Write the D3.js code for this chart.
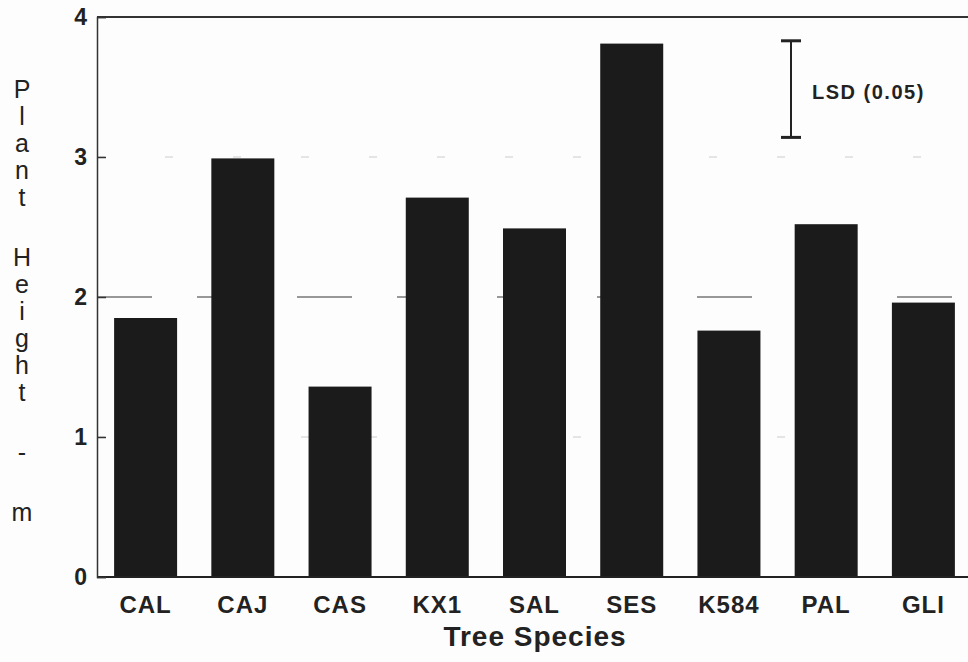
<!DOCTYPE html>
<html>
<head>
<meta charset="utf-8">
<script src="https://cdn.jsdelivr.net/npm/d3@7"></script>
<style>
  body { margin: 0; background: #fdfdfd; }
  svg { display: block; font-family: "Liberation Sans", Arial, sans-serif; }
</style>
</head>
<body>
<div id="chart"></div>
<script>
// tree species on the x axis
var species = ["CAL", "CAJ", "CAS", "KX1", "SAL", "SES", "K584", "PAL", "GLI"];
// plant height in metres
var heights = [1.85, 2.99, 1.36, 2.71, 2.49, 3.81, 1.76, 2.52, 1.96];
var yTicks = [0, 1, 2, 3, 4];
var gridValues = [1, 2, 3];
// LSD (0.05) bar: top value and length
var lsdTop = 3.83;
var lsdLength = 0.69;
var lsdLabel = "LSD (0.05)";
var yTitle = "Plant Height - m";
var xTitle = "Tree Species";

var width = 968, height = 662;
var plotLeft = 97, plotTop = 17, plotBottom = 577, plotRight = 972;

var svg = d3.select("#chart").append("svg")
    .attr("width", width)
    .attr("height", height);

var x = d3.scaleBand()
    .domain(species)
    .range([plotLeft, plotRight])
    .paddingInner(0.352)
    .paddingOuter(0.176);

var y = d3.scaleLinear()
    .domain([0, 4])
    .range([plotBottom, plotTop]);

// faint gridlines (scanned look)
svg.append("g")
    .selectAll("line")
    .data(gridValues)
    .enter().append("line")
    .attr("x1", plotLeft)
    .attr("x2", width)
    .attr("y1", function(d) { return y(d); })
    .attr("y2", function(d) { return y(d); })
    .attr("stroke", function(d) { return d == 2 ? "#777" : "#ccc"; })
    .attr("stroke-width", function(d) { return d == 2 ? 1.5 : 1; })
    .attr("stroke-dasharray", function(d) { return d == 2 ? "55,45" : "8,60"; });

// bars
svg.append("g")
    .selectAll("rect")
    .data(heights)
    .enter().append("rect")
    .attr("x", function(d, i) { return x(species[i]); })
    .attr("y", function(d) { return y(d); })
    .attr("width", x.bandwidth())
    .attr("height", function(d) { return y(0) - y(d); })
    .attr("fill", "#1b1b1b");

// frame: top line and baseline
svg.append("line")
    .attr("x1", plotLeft).attr("x2", width)
    .attr("y1", y(4)).attr("y2", y(4))
    .attr("stroke", "#333").attr("stroke-width", 2);
svg.append("line")
    .attr("x1", plotLeft).attr("x2", width)
    .attr("y1", y(0)).attr("y2", y(0))
    .attr("stroke", "#222").attr("stroke-width", 2);

var yAxis = svg.append("g")
    .attr("transform", "translate(" + plotLeft + ",0)")
    .call(d3.axisRight(y).tickValues(yTicks).tickSize(9).tickFormat(""));
yAxis.select(".domain").attr("stroke", "#333").attr("stroke-width", 1.5);
yAxis.selectAll(".tick line").attr("stroke", "#333").attr("stroke-width", 1.5);

svg.append("g")
    .selectAll("text")
    .data(yTicks)
    .enter().append("text")
    .attr("x", plotLeft - 10)
    .attr("y", function(d) { return y(d); })
    .attr("dy", "0.36em")
    .attr("text-anchor", "end")
    .attr("font-size", 23)
    .attr("font-weight", "bold")
    .attr("fill", "#222")
    .text(function(d) { return d; });

// x labels
svg.append("g")
    .selectAll("text")
    .data(species)
    .enter().append("text")
    .attr("x", function(d) { return x(d) + x.bandwidth() / 2; })
    .attr("y", 613)
    .attr("text-anchor", "middle")
    .attr("font-size", 24)
    .attr("font-weight", "bold")
    .attr("letter-spacing", 1)
    .attr("fill", "#222")
    .text(function(d) { return d; });

svg.append("text")
    .attr("x", 535)
    .attr("y", 646)
    .attr("text-anchor", "middle")
    .attr("font-size", 28)
    .attr("font-weight", "bold")
    .attr("letter-spacing", 1)
    .attr("fill", "#222")
    .text(xTitle);

// y title, stacked letters
var chars = yTitle.split("");
var pos = [], yy = 98;
chars.forEach(function(c, i) {
    if (c == " ") { yy += 33; return; }
    pos.push({c: c, y: yy});
    yy += 27;
});
svg.append("g")
    .selectAll("text")
    .data(pos)
    .enter().append("text")
    .attr("x", 22)
    .attr("y", function(d) { return d.y; })
    .attr("text-anchor", "middle")
    .attr("font-size", 25)
    .attr("fill", "#222")
    .text(function(d) { return d.c; });

// LSD bar
var lsdX = 791;
var lsd = svg.append("g").attr("stroke", "#222");
lsd.append("line")
    .attr("x1", lsdX).attr("x2", lsdX)
    .attr("y1", y(lsdTop)).attr("y2", y(lsdTop - lsdLength))
    .attr("stroke-width", 2);
[lsdTop, lsdTop - lsdLength].forEach(function(v) {
    lsd.append("line")
        .attr("x1", lsdX - 10).attr("x2", lsdX + 10)
        .attr("y1", y(v)).attr("y2", y(v))
        .attr("stroke-width", 3);
});
svg.append("text")
    .attr("x", 812)
    .attr("y", 99)
    .attr("font-size", 20)
    .attr("font-weight", "bold")
    .attr("letter-spacing", 1.5)
    .attr("fill", "#222")
    .text(lsdLabel);
</script>
</body>
</html>
